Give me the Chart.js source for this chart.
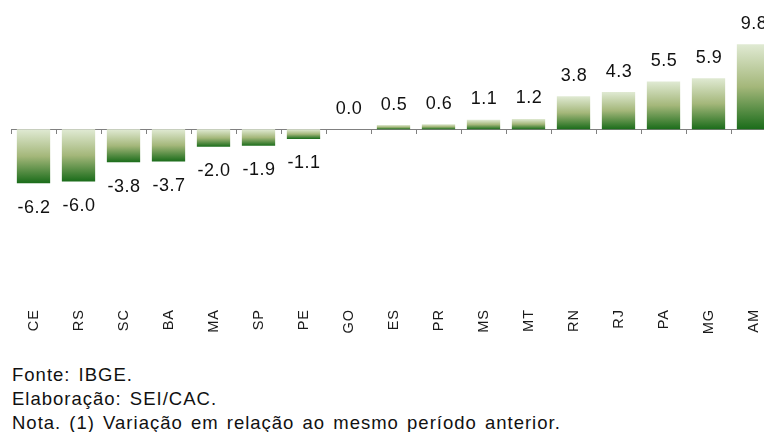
<!DOCTYPE html>
<html>
<head>
<meta charset="utf-8">
<script src="https://cdn.jsdelivr.net/npm/chart.js@4/dist/chart.umd.min.js"></script>
<style>
  html, body { margin: 0; padding: 0; background: #ffffff; overflow: hidden; width: 764px; height: 432px; }
  #wrap { position: relative; width: 764px; height: 432px; overflow: hidden; }
  #chart { position: absolute; left: 0; top: 0; }
  #notes {
    position: absolute; left: 12px; top: 362.5px;
    font-family: "Liberation Sans", Arial, sans-serif; font-size: 18.5px; line-height: 24px;
    letter-spacing: 1px; word-spacing: 2px;
    color: #111111; white-space: nowrap;
  }
</style>
</head>
<body>
<div id="wrap">
  <canvas id="chart" width="780" height="345"></canvas>
  <div id="notes"></div>
</div>
<script>
// States, ordered by growth rate
const categories = ['CE', 'RS', 'SC', 'BA', 'MA', 'SP', 'PE', 'GO', 'ES', 'PR', 'MS', 'MT', 'RN', 'RJ', 'PA', 'MG', 'AM'];
// Variation (%) relative to the same period of the previous year
const variation = [-6.2, -6.0, -3.8, -3.7, -2.0, -1.9, -1.1, 0.0, 0.5, 0.6, 1.1, 1.2, 3.8, 4.3, 5.5, 5.9, 9.8];
// Source lines printed under the chart
const footnotes = ['Fonte: IBGE.', 'Elaboração: SEI/CAC.', 'Nota. (1) Variação em relação ao mesmo período anterior.'];

const notesEl = document.getElementById('notes');
footnotes.forEach(t => {
  const d = document.createElement('div');
  d.textContent = t;
  notesEl.appendChild(d);
});

const FONT = '"Liberation Sans", Arial, sans-serif';

// Vertical green gradient spanning each bar, light on top and dark at the bottom
function barFill(ctx) {
  const chart = ctx.chart;
  const y = chart.scales.y;
  if (!chart.chartArea || !y || ctx.type !== 'data') return '#9fb56f';
  const v = ctx.raw;
  const top = y.getPixelForValue(Math.max(v, 0));
  const bot = y.getPixelForValue(Math.min(v, 0));
  if (bot - top < 1) return '#9fb56f';
  const g = chart.ctx.createLinearGradient(0, top, 0, bot);
  g.addColorStop(0, '#e0ead3');
  g.addColorStop(0.5, '#a4b77a');
  g.addColorStop(1, '#1a6c1a');
  return g;
}

// Slightly looser letter spacing for the category names
const spacing = {
  id: 'spacing',
  beforeDraw(chart) {
    if ('letterSpacing' in chart.ctx) chart.ctx.letterSpacing = '1px';
  }
};

// Value printed above positive bars and below negative ones
const valueLabels = {
  id: 'valueLabels',
  afterDatasetsDraw(chart) {
    const meta = chart.getDatasetMeta(0);
    const y = chart.scales.y;
    const c = chart.ctx;
    c.save();
    if ('letterSpacing' in c) c.letterSpacing = '0.5px';
    c.font = '18px ' + FONT;
    c.fillStyle = '#111111';
    c.textAlign = 'center';
    c.textBaseline = 'alphabetic';
    meta.data.forEach((bar, i) => {
      const v = chart.data.datasets[0].data[i];
      const py = y.getPixelForValue(v);
      const ty = v >= 0 ? py - 15.5 : py + 29.5;
      c.fillText(v.toFixed(1), bar.x + 0.5, ty);
    });
    c.restore();
  }
};

new Chart(document.getElementById('chart'), {
  type: 'bar',
  data: {
    labels: categories,
    datasets: [{
      data: variation,
      backgroundColor: barFill,
      borderWidth: 0,
      categoryPercentage: 1.0,
      barPercentage: 0.74
    }]
  },
  options: {
    responsive: false,
    animation: false,
    devicePixelRatio: 1,
    layout: { padding: { top: 7.8, left: 11, right: 4, bottom: 0 } },
    plugins: { legend: { display: false }, tooltip: { enabled: false } },
    scales: {
      x: {
        type: 'category',
        position: 'bottom',
        grid: { display: false, drawTicks: false },
        border: { display: false },
        ticks: {
          minRotation: 90, maxRotation: 90, padding: 6,
          color: '#1a1a1a',
          font: { family: FONT, size: 14.5 }
        },
        afterFit(scale) { scale.height = 42; }
      },
      // zero line with tick marks between the categories
      x2: {
        type: 'category',
        position: { y: 0 },
        offset: true,
        grid: { display: true, offset: true, drawOnChartArea: false, drawTicks: true, tickLength: 4, color: '#808080', lineWidth: 1 },
        border: { display: true, color: '#808080', width: 1 },
        ticks: { display: false }
      },
      y: {
        display: false,
        min: -20,
        max: 14
      }
    }
  },
  plugins: [spacing, valueLabels]
});
</script>
</body>
</html>
